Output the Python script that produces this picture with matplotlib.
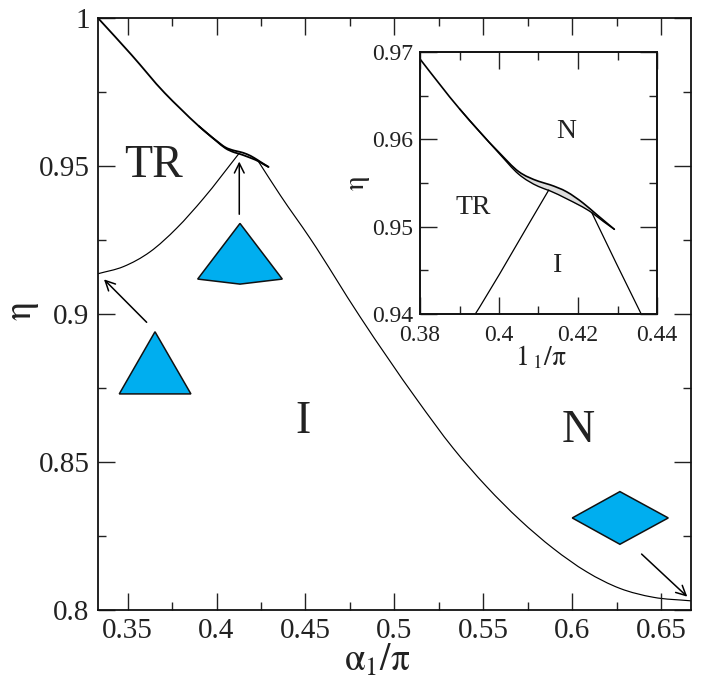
import matplotlib
matplotlib.use("Agg")
import matplotlib.pyplot as plt
from matplotlib.patches import Polygon, PathPatch
from matplotlib.path import Path
from matplotlib.ticker import FixedLocator, FixedFormatter

plt.rcParams['font.family'] = ['Liberation Serif', 'DejaVu Serif']
plt.rcParams['mathtext.fontset'] = 'stix'

W, H = 704, 684
INK = '#222222'

# Phase boundaries
upper_x = [0.3333, 0.3521, 0.3708, 0.38, 0.39, 0.40, 0.405, 0.41, 0.4129, 0.4171, 0.4213, 0.4247, 0.4292]
upper_y = [1.0, 0.9876, 0.9747, 0.9692, 0.9635, 0.9585, 0.9563, 0.9552, 0.9548, 0.9540, 0.9527, 0.9514, 0.9497]
lower_x = [0.39, 0.40, 0.405, 0.41, 0.4129, 0.4171, 0.4235, 0.4264, 0.4292]
lower_y = [0.9635, 0.9584, 0.9560, 0.9546, 0.9541, 0.9532, 0.9516, 0.9506, 0.9497]
upper_fill_y = [0.9635, 0.9585, 0.9563, 0.9552, 0.9548, 0.9540, 0.9519, 0.9508, 0.9497]

tr_i_x = [0.3333, 0.3476, 0.3626, 0.3776, 0.3926, 0.4126]
tr_i_y = [0.9136, 0.9160, 0.9210, 0.9290, 0.9390, 0.9542]

i_n_x = [0.4235, 0.436, 0.4526, 0.4807, 0.5126, 0.5332, 0.5519, 0.5707, 0.5894, 0.6082, 0.6269, 0.6457, 0.6667]
i_n_y = [0.9516, 0.9400, 0.9256, 0.8991, 0.8712, 0.8546, 0.8417, 0.8304, 0.8208, 0.8129, 0.8073, 0.8043, 0.8031]

# Schematic shapes and arrows
triangle = [(0.3654, 0.8940), (0.3453, 0.8730), (0.3856, 0.8730)]
pentagon = [(0.4132, 0.9306), (0.3894, 0.9118), (0.4132, 0.9101), (0.4370, 0.9118)]
rhombus = [(0.6269, 0.8400), (0.6001, 0.8311), (0.6269, 0.8222), (0.6541, 0.8311)]
arrows = [((0.3607, 0.8972), (0.3367, 0.9117)),
          ((0.4128, 0.9337), (0.4128, 0.9515)),
          ((0.6391, 0.8189), (0.6648, 0.8045))]

main_major_x = [0.35, 0.40, 0.45, 0.50, 0.55, 0.60, 0.65]
main_major_xl = ['0.35', '0.4', '0.45', '0.5', '0.55', '0.6', '0.65']
main_minor_x = [0.375, 0.425, 0.475, 0.525, 0.575, 0.625]
main_major_y = [0.80, 0.85, 0.90, 0.95, 1.0]
main_major_yl = ['0.8', '0.85', '0.9', '0.95', '1']
main_minor_y = [0.825, 0.875, 0.925, 0.975]

ins_major_x = [0.38, 0.40, 0.42, 0.44]
ins_major_xl = ['0.38', '0.4', '0.42', '0.44']
ins_minor_x = [0.39, 0.41, 0.43]
ins_major_y = [0.94, 0.95, 0.96, 0.97]
ins_major_yl = ['0.94', '0.95', '0.96', '0.97']
ins_minor_y = [0.945, 0.955, 0.965]


def smooth_path(xs, ys):
    """Cubic Bezier path through the read points (the curve passes through each one)."""
    n = len(xs)
    slopes = [(ys[i + 1] - ys[i]) / (xs[i + 1] - xs[i]) for i in range(n - 1)]
    tang = [slopes[0]]
    for i in range(1, n - 1):
        h0, h1 = xs[i] - xs[i - 1], xs[i + 1] - xs[i]
        tang.append((h1 * slopes[i - 1] + h0 * slopes[i]) / (h0 + h1))
    tang.append(slopes[-1])
    verts, codes = [(xs[0], ys[0])], [Path.MOVETO]
    for i in range(n - 1):
        h = (xs[i + 1] - xs[i]) / 3
        verts += [(xs[i] + h, ys[i] + tang[i] * h),
                  (xs[i + 1] - h, ys[i + 1] - tang[i + 1] * h),
                  (xs[i + 1], ys[i + 1])]
        codes += [Path.CURVE4] * 3
    return verts, codes


def draw_curve(ax, xs, ys, lw):
    v, c = smooth_path(xs, ys)
    ax.add_patch(PathPatch(Path(v, c), facecolor='none', edgecolor='k', lw=lw, capstyle='round', joinstyle='round'))


def style(ax, mx, mxl, nx, my, myl, ny, size, padx, pady, lw):
    ax.xaxis.set_major_locator(FixedLocator(mx))
    ax.xaxis.set_major_formatter(FixedFormatter(mxl))
    ax.xaxis.set_minor_locator(FixedLocator(nx))
    ax.yaxis.set_major_locator(FixedLocator(my))
    ax.yaxis.set_major_formatter(FixedFormatter(myl))
    ax.yaxis.set_minor_locator(FixedLocator(ny))
    ax.tick_params(which='major', direction='in', length=12, width=1.0, top=True,
                   right=True, labelsize=size, labelcolor=INK, color=INK)
    ax.tick_params(which='minor', direction='in', length=6, width=1.0, top=True,
                   right=True, color=INK)
    ax.tick_params(axis='x', which='major', pad=padx)
    ax.tick_params(axis='y', which='major', pad=pady)
    for s in ax.spines.values():
        s.set_linewidth(lw)
        s.set_color('#111111')


fig = plt.figure(figsize=(W / 100, H / 100), dpi=100)
ax = fig.add_axes([98 / W, 1 - 610 / H, 592.6 / W, 592 / H])
ax.set_xlim(1 / 3, 2 / 3)
ax.set_ylim(0.8, 1.0)
style(ax, main_major_x, main_major_xl, main_minor_x, main_major_y, main_major_yl, main_minor_y, 21, 6, 6, 1.3)

draw_curve(ax, upper_x, upper_y, 1.3)
draw_curve(ax, lower_x, lower_y, 1.3)
draw_curve(ax, tr_i_x, tr_i_y, 0.85)
draw_curve(ax, i_n_x, i_n_y, 0.85)

for shape in (triangle, pentagon, rhombus):
    ax.add_patch(Polygon(shape, closed=True, facecolor='#00AEEF', edgecolor='#111111', lw=1.1, zorder=3))
for start, end in arrows:
    ax.annotate('', xy=end, xytext=start,
                arrowprops=dict(arrowstyle='->,head_length=0.7,head_width=0.35', color='k', lw=1.1,
                                shrinkA=0, shrinkB=0))

ax.text(0.3648, 0.9501, 'TR', fontsize=33, color=INK, ha='center', va='center')
ax.text(0.4486, 0.8635, 'I', fontsize=33, color=INK, ha='center', va='center')
ax.text(0.6033, 0.8605, 'N', fontsize=33, color=INK, ha='center', va='center')
fig.text(377 / W, 1 - 660 / H, r'$\mathrm{\alpha_1/\pi}$', fontsize=27, color=INK, ha='center', va='center')
fig.text(24 / W, 1 - 312 / H, r'$\mathrm{\eta}$', fontsize=27, color=INK, ha='center', va='center', rotation=90)

ins = fig.add_axes([420 / W, 1 - 314 / H, 237 / W, 262 / H])
ins.set_xlim(0.38, 0.44)
ins.set_ylim(0.94, 0.97)
style(ins, ins_major_x, ins_major_xl, ins_minor_x, ins_major_y, ins_major_yl, ins_minor_y, 17, 8, 5, 1.4)
ins.fill_between(lower_x, lower_y, upper_fill_y, color='#dddddd', lw=0)
draw_curve(ins, upper_x, upper_y, 1.2)
draw_curve(ins, lower_x, lower_y, 1.0)
draw_curve(ins, tr_i_x, tr_i_y, 0.9)
draw_curve(ins, i_n_x, i_n_y, 0.9)
ins.text(0.3934, 0.9522, 'TR', fontsize=20, color=INK, ha='center', va='center')
ins.text(0.4170, 0.9609, 'N', fontsize=20, color=INK, ha='center', va='center')
ins.text(0.4149, 0.9456, 'I', fontsize=20, color=INK, ha='center', va='center')
fig.text(541 / W, 1 - 357 / H, r'$\mathrm{1\,_1/\pi}$', fontsize=20, color=INK, ha='center', va='center')
fig.text(359 / W, 1 - 183 / H, r'$\mathrm{\eta}$', fontsize=21, color=INK, ha='center', va='center', rotation=90)

fig.savefig('out.png', dpi=100)
